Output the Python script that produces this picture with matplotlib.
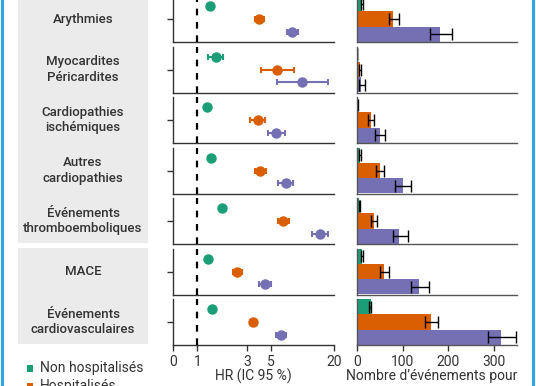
import matplotlib.pyplot as plt
from matplotlib.patches import Rectangle
from matplotlib.lines import Line2D
from matplotlib.ticker import NullLocator

plt.rcParams['font.family'] = ['Roboto', 'DejaVu Sans']

categories = ["Arythmies", "Myocardites\nPéricardites", "Cardiopathies\nischémiques",
              "Autres\ncardiopathies", "Événements\nthromboemboliques", "MACE",
              "Événements\ncardiovasculaires"]
legend_labels = ["Non hospitalisés", "Hospitalisés"]
colors = ["#1b9e77", "#d95f02", "#7570b3"]

# hazard ratios (log axis), three groups per category
hr_green = [1.32, 1.50, 1.23, 1.35, 1.73, 1.26, 1.38]
hr_green_lo = [1.28, 1.27, 1.19, 1.30, 1.66, 1.23, 1.35]
hr_green_hi = [1.36, 1.75, 1.27, 1.40, 1.80, 1.29, 1.41]
hr_orange = [3.9, 5.7, 3.76, 3.95, 6.6, 2.4, 3.4]
hr_orange_lo = [3.55, 4.0, 3.2, 3.55, 5.8, 2.2, 3.2]
hr_orange_hi = [4.3, 8.3, 4.4, 4.5, 7.5, 2.65, 3.6]
hr_purple = [8.0, 10.0, 5.6, 6.95, 14.7, 4.4, 6.2]
hr_purple_lo = [7.1, 5.7, 4.7, 5.9, 12.3, 3.9, 5.6]
hr_purple_hi = [9.0, 17.7, 6.8, 8.2, 17.5, 5.0, 7.0]

# events per 1000 person-years
ev_green = [11, 1, 2, 7, 6, 12, 31]
ev_green_lo = [9, 0.5, 1.5, 5.5, 5, 10, 26]
ev_green_hi = [13, 1.5, 2.5, 8.5, 7, 14, 32]
ev_orange = [80, 7, 32, 51, 38, 60, 162]
ev_orange_lo = [71, 5, 25, 43, 32, 50, 149]
ev_orange_hi = [93, 10, 37, 59, 45, 70, 178]
ev_purple = [182, 9, 51, 100, 93, 137, 314]
ev_purple_lo = [161, 6, 41, 84, 79, 118, 286]
ev_purple_hi = [208, 19, 62, 118, 111, 157, 347]

hr_ticks = [0.59, 1, 3, 5, 20]
hr_ticklabels = ["0", "1", "3", "5", "20"]
ev_ticks = [0, 100, 200, 300]

W, H = 536, 386
fig = plt.figure(figsize=(W / 100, H / 100), dpi=100)

# gray label boxes
fig.add_artist(Rectangle((18 / W, 1 - 243 / H), 130 / W, 260 / H, transform=fig.transFigure,
                         facecolor="#ebebeb", edgecolor="none", zorder=0))
fig.add_artist(Rectangle((18 / W, 1 - 344 / H), 130 / W, 96 / H, transform=fig.transFigure,
                         facecolor="#ebebeb", edgecolor="none", zorder=0))

ypos = [1, 0, -1]
hr_sets = [(hr_green, hr_green_lo, hr_green_hi), (hr_orange, hr_orange_lo, hr_orange_hi),
           (hr_purple, hr_purple_lo, hr_purple_hi)]
ev_sets = [(ev_green, ev_green_lo, ev_green_hi), (ev_orange, ev_orange_lo, ev_orange_hi),
           (ev_purple, ev_purple_lo, ev_purple_hi)]

for i, cat in enumerate(categories):
    bottom = 42 + 50.5 * i
    fig.text(83 / W, 1 - (bottom - 23) / H, cat, ha="center", va="center", fontsize=9.5,
             fontweight="medium", color="#333333", linespacing=1.25)

    ax = fig.add_axes([173.3 / W, 1 - bottom / H, (334 - 173.3) / W, 46 / H])
    ax.set_xscale("log")
    ax.axvline(1, color="black", lw=1.6, ls=(0, (3, 3)), zorder=1)
    for k in range(3):
        v, lo, hi = hr_sets[k]
        ax.errorbar([v[i]], [ypos[k]], xerr=[[v[i] - lo[i]], [hi[i] - v[i]]], fmt="o",
                    color=colors[k], ms=6.5, elinewidth=1.5, capsize=2.5, capthick=1.5, zorder=3)
    ax.set_xlim(0.59, 20)
    ax.set_ylim(-1.77, 1.77)
    ax.set_yticks([0])
    ax.set_yticklabels([])
    ax.xaxis.set_minor_locator(NullLocator())
    for s in ["top", "right"]:
        ax.spines[s].set_visible(False)
    for s in ["left", "bottom"]:
        ax.spines[s].set_color("#333333")
        ax.spines[s].set_linewidth(1)
    ax.tick_params(axis="y", length=4, width=1, color="#333333")
    if i == 6:
        ax.set_xticks(hr_ticks)
        ax.set_xticklabels(hr_ticklabels)
        ax.tick_params(axis="x", length=4, width=1, color="#333333", labelsize=10,
                       labelcolor="#333333", pad=3)
    else:
        ax.set_xticks([])

    bx = fig.add_axes([356.7 / W, 1 - bottom / H, (517 - 356.7) / W, 46 / H])
    for k in range(3):
        v, lo, hi = ev_sets[k]
        bx.barh([ypos[k]], [v[i]], height=1, color=colors[k],
                xerr=[[v[i] - lo[i]], [hi[i] - v[i]]],
                error_kw=dict(ecolor="black", lw=1, capsize=4, capthick=1))
    bx.set_xlim(0, 350)
    bx.set_ylim(-1.53, 1.53)
    bx.set_yticks([])
    for s in ["top", "right"]:
        bx.spines[s].set_visible(False)
    for s in ["left", "bottom"]:
        bx.spines[s].set_color("#555555")
        bx.spines[s].set_linewidth(1)
    if i == 6:
        bx.set_xticks(ev_ticks)
        bx.tick_params(axis="x", length=4, width=1, color="#333333", labelsize=10,
                       labelcolor="#333333", pad=3)
    else:
        bx.set_xticks([])

fig.text(253 / W, 1 - 376 / H, "HR (IC 95 %)", ha="center", va="center", fontsize=10,
         color="#333333")
fig.text(432 / W, 1 - 376 / H, "Nombre d\u2019événements pour", ha="center", va="center",
         fontsize=10, color="#333333")

# legend
for k, lab in enumerate(legend_labels):
    yy = 368 + 18 * k
    fig.add_artist(Rectangle((27 / W, 1 - (yy + 3.5) / H), 6 / W, 7 / H,
                             transform=fig.transFigure, facecolor=colors[k], edgecolor="none"))
    fig.text(40 / W, 1 - yy / H, lab, ha="left", va="center", fontsize=10, color="#333333")

# blue frame edges
fig.add_artist(Line2D([1.5 / W, 1.5 / W], [0, 1], color="#2aa8e0", lw=2.2))
fig.add_artist(Line2D([533 / W, 533 / W], [0, 1], color="#2aa8e0", lw=2.2))

fig.savefig("out.png", dpi=100)
